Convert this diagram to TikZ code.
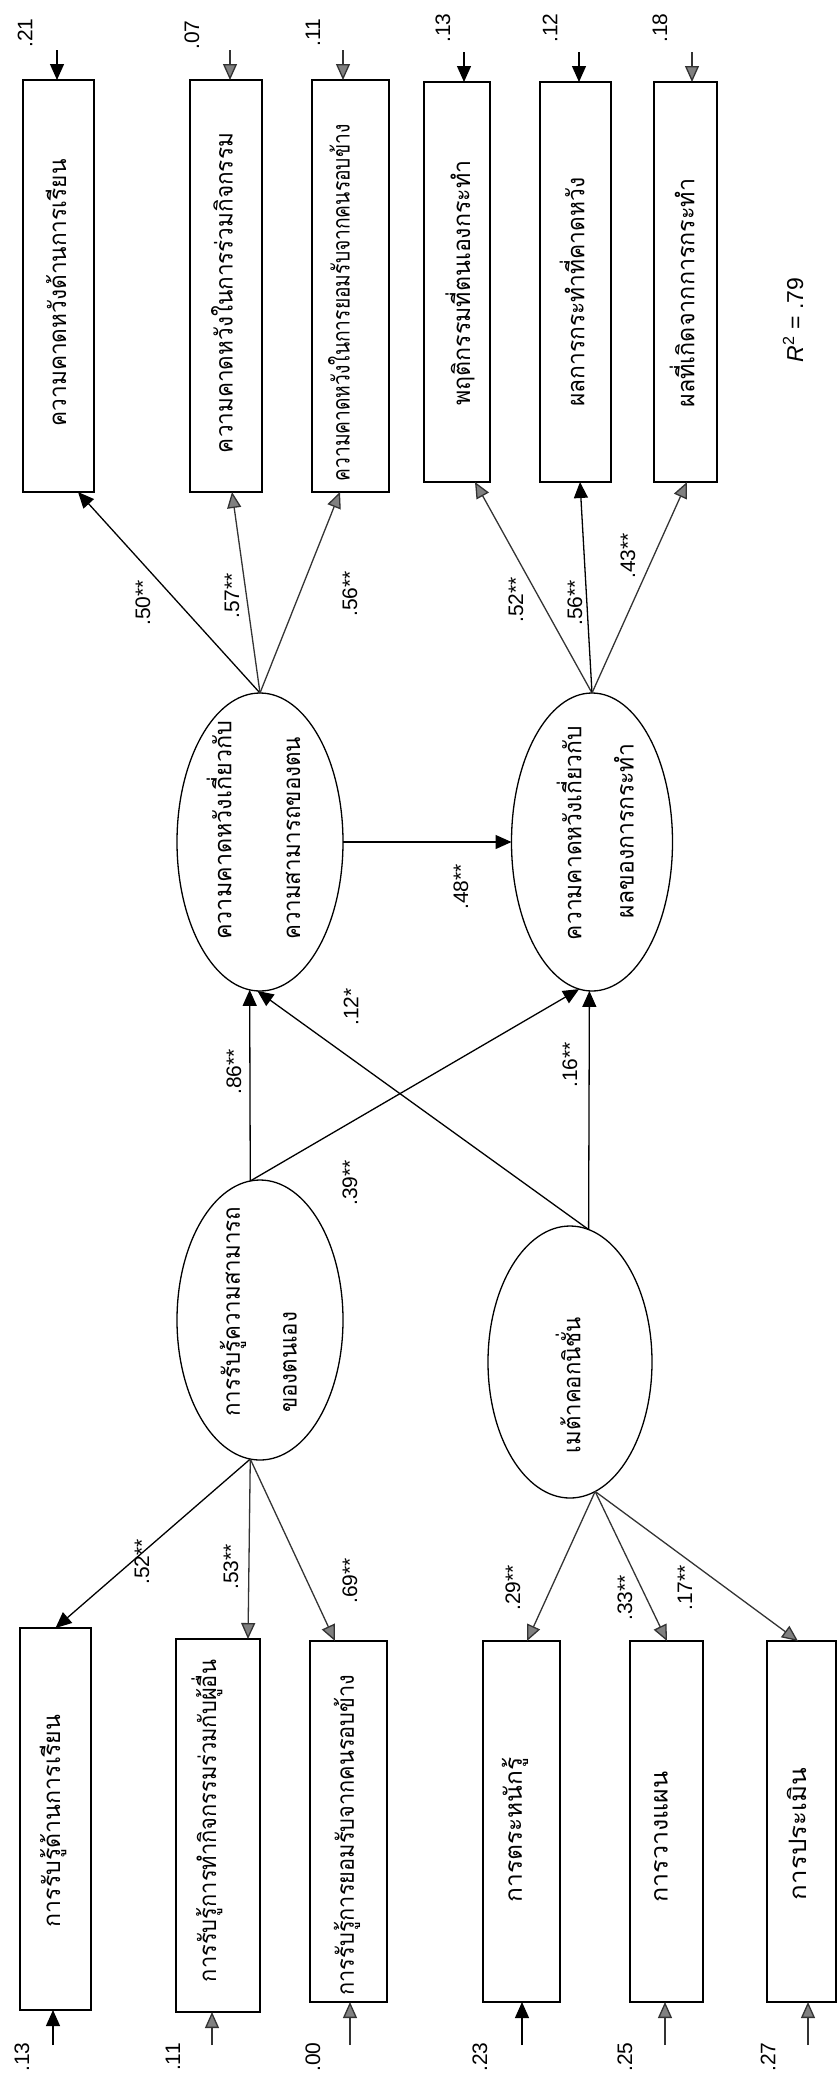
\documentclass[tikz,border=0pt]{standalone}
\usepackage{fontspec}
\setmainfont{Liberation Sans}
\newfontfamily\thai[Script=Thai]{Loma}
\usetikzlibrary{arrows.meta,shapes.geometric}
\newcommand{\thfit}[2]{\resizebox{#1pt}{\height}{#2}}
\begin{document}
\begin{tikzpicture}[x=1pt,y=-1pt,
  box/.style={draw,line width=1.5pt,rectangle,inner sep=0pt,outer sep=0pt},
  ell/.style={draw,line width=1.3pt,ellipse,inner sep=0pt,outer sep=0pt},
  thtxt/.style={rotate=90,inner sep=0pt,font=\thai\fontsize{24}{28}\selectfont},
  num/.style={rotate=90,inner sep=0pt,font=\fontsize{21}{24}\selectfont},
  con/.style={line width=1.3pt,-{Triangle[length=16pt,width=14pt]}},
  gcon/.style={line width=1.3pt,draw=black!80,-{Triangle[length=16pt,width=14pt,fill=black!50]}}
]
\useasboundingbox (0,0) rectangle (840,2075);

% ---------- top boxes ----------
\node[box,minimum width=71pt,minimum height=412pt] (T1) at (58.5,286) {};
\node[box,minimum width=72pt,minimum height=412pt] (T2) at (226,286) {};
\node[box,minimum width=77pt,minimum height=412pt] (T3) at (350.5,286) {};
\node[box,minimum width=66pt,minimum height=400pt] (T4) at (457,282) {};
\node[box,minimum width=71pt,minimum height=400pt] (T5) at (575.5,282) {};
\node[box,minimum width=63pt,minimum height=400pt] (T6) at (685.5,282) {};
\node[thtxt] (T1t) at (56,293) {\thfit{267}{ความคาดหวังด้านการเรียน}};
\node[thtxt] (T2t) at (222,293) {\thfit{320}{ความคาดหวังในการร่วมกิจกรรม}};
\node[thtxt] (T3t) at (339,303) {\thfit{357}{ความคาดหวังในการยอมรับจากคนรอบข้าง}};
\node[thtxt] (T4t) at (460,283) {\thfit{245}{พฤติกรรมที่ตนเองกระทำ}};
\node[thtxt] (T5t) at (572,292) {\thfit{229}{ผลการกระทำที่คาดหวัง}};
\node[thtxt] (T6t) at (682,293) {\thfit{229}{ผลที่เกิดจากการกระทำ}};

% ---------- bottom boxes ----------
\node[box,minimum width=71pt,minimum height=382pt] (B1) at (55.5,1819) {};
\node[box,minimum width=84pt,minimum height=373pt] (B2) at (218,1825.5) {};
\node[box,minimum width=77pt,minimum height=361pt] (B3) at (348.5,1821.5) {};
\node[box,minimum width=77pt,minimum height=361pt] (D1) at (521.5,1821.5) {};
\node[box,minimum width=73pt,minimum height=361pt] (D2) at (666.5,1821.5) {};
\node[box,minimum width=69pt,minimum height=361pt] (D3) at (801.5,1821.5) {};
\node[thtxt] (B1t) at (53,1821) {\thfit{212}{การรับรู้ด้านการเรียน}};
\node[thtxt] (B2t) at (207,1821) {\thfit{322}{การรับรู้การทำกิจกรรมร่วมกับผู้อื่น}};
\node[thtxt] (B3t) at (347,1835) {\thfit{321}{การรับรู้การยอมรับจากคนรอบข้าง}};
\node[thtxt] (D1t) at (515,1830) {\thfit{145}{การตระหนักรู้}};
\node[thtxt] (D2t) at (661,1837) {\thfit{131}{การวางแผน}};
\node[thtxt] (D3t) at (797,1834) {\thfit{132}{การประเมิน}};

% ---------- ellipses ----------
\node[ell,minimum width=166pt,minimum height=298pt] (A) at (260,842) {};
\node[ell,minimum width=161pt,minimum height=298pt] (B) at (592,842) {};
\node[ell,minimum width=166pt,minimum height=280pt] (C) at (260,1320) {};
\node[ell,minimum width=164pt,minimum height=272pt] (D) at (570,1362) {};
\node[thtxt,anchor=west] (A1) at (219,940) {\thfit{219}{ความคาดหวังเกี่ยวกับ}};
\node[thtxt,anchor=west] (A2) at (293,940) {\thfit{203}{ความสามารถของตน}};
\node[thtxt] (B1l) at (569,833) {\thfit{214}{ความคาดหวังเกี่ยวกับ}};
\node[thtxt] (B2l) at (624,831) {\thfit{174}{ผลของการกระทำ}};
\node[thtxt,anchor=west] (C1) at (233,1417) {\thfit{210}{การรับรู้ความสามารถ}};
\node[thtxt,anchor=west] (C2) at (290,1413) {\thfit{101}{ของตนเอง}};
\node[thtxt] (Dt) at (568,1385) {\thfit{136}{เมต้าคอกนิชั่น}};

% ---------- error arrows (top) ----------
\coordinate (eT1) at (57,50);
\coordinate (eT2) at (230,50);
\coordinate (eT3) at (343,50);
\coordinate (eT4) at (464,52);
\coordinate (eT5) at (579,52);
\coordinate (eT6) at (692,52);
\draw[con]  (eT1) -- (eT1 |- T1.north);
\draw[gcon] (eT2) -- (eT2 |- T2.north);
\draw[gcon] (eT3) -- (eT3 |- T3.north);
\draw[con]  (eT4) -- (eT4 |- T4.north);
\draw[con]  (eT5) -- (eT5 |- T5.north);
\draw[gcon] (eT6) -- (eT6 |- T6.north);
\node[num] (r21) at (25,33) {.21};
\node[num] (r07) at (192,35) {.07};
\node[num] (r11t) at (313,33) {.11};
\node[num] (r13t) at (443,28) {.13};
\node[num] (r12) at (550,28) {.12};
\node[num] (r18) at (660,28) {.18};

% ---------- error arrows (bottom) ----------
\coordinate (eB1) at (53,2045);
\coordinate (eB2) at (212,2045);
\coordinate (eB3) at (350,2045);
\coordinate (eD1) at (522,2045);
\coordinate (eD2) at (665,2045);
\coordinate (eD3) at (808,2045);
\draw[con]  (eB1) -- (eB1 |- B1.south);
\draw[gcon] (eB2) -- (eB2 |- B2.south);
\draw[gcon] (eB3) -- (eB3 |- B3.south);
\draw[con]  (eD1) -- (eD1 |- D1.south);
\draw[gcon] (eD2) -- (eD2 |- D2.south);
\draw[gcon] (eD3) -- (eD3 |- D3.south);
\node[num] (r13b) at (22,2057) {.13};
\node[num] (r11b) at (173,2057) {.11};
\node[num] (r00) at (313,2057) {.00};
\node[num] (r23) at (480,2057) {.23};
\node[num] (r25) at (625,2057) {.25};
\node[num] (r27) at (768,2057) {.27};

% ---------- loadings ----------
\draw[con]  (A.north) -- ([xshift=19.5pt]T1.south);
\draw[gcon] (A.north) -- ([xshift=6pt]T2.south);
\draw[gcon] (A.north) -- ([xshift=-10.5pt]T3.south);
\draw[gcon] (B.north) -- ([xshift=18pt]T4.south);
\draw[con]  (B.north) -- ([xshift=4.5pt]T5.south);
\draw[gcon] (B.north) -- ([xshift=1.5pt]T6.south);
\draw[con]  (C.-94) -- (B1.north);
\draw[gcon] (C.-94) -- ([xshift=30pt]B2.north);
\draw[gcon] (C.-94) -- ([xshift=-13.5pt]B3.north);
\draw[gcon] (D.-79) -- ([xshift=5.5pt]D1.north);
\draw[gcon] (D.-79) -- ([xshift=0.5pt]D2.north);
\draw[gcon] (D.-79) -- ([xshift=-3.5pt]D3.north);

\node[num] (l50) at (143,603) {.50**};
\node[num] (l57) at (232,596) {.57**};
\node[num] (l56a) at (350,594) {.56**};
\node[num] (l52a) at (516,600) {.52**};
\node[num] (l56b) at (575,603) {.56**};
\node[num] (l43) at (628,556) {.43**};
\node[num] (l52b) at (142,1562) {.52**};
\node[num] (l53) at (231,1567) {.53**};
\node[num] (l69) at (350,1581) {.69**};
\node[num] (l29) at (513,1588) {.29**};
\node[num] (l33) at (625,1598) {.33**};
\node[num] (l17) at (685,1588) {.17**};

% ---------- structural paths ----------
\draw[con] (C.94) -- (A.-94);
\draw[con] (C.94) -- (B.-95);
\draw[con] (D.82) -- (B.-91);
\draw[con] (D.82) -- (A.-91);
\draw[con] (A.east) -- (B.west);
\node[num] (l86) at (234,1072) {.86**};
\node[num] (l39) at (350,1183) {.39**};
\node[num] (l12) at (351,1007) {.12*};
\node[num] (l48) at (461,887) {.48**};
\node[num] (l16) at (570,1065) {.16**};

\node[num,font=\fontsize{23}{26}\selectfont] (R2) at (793,320) {\textit{R}\textsuperscript{2} = .79};
\end{tikzpicture}
\end{document}
